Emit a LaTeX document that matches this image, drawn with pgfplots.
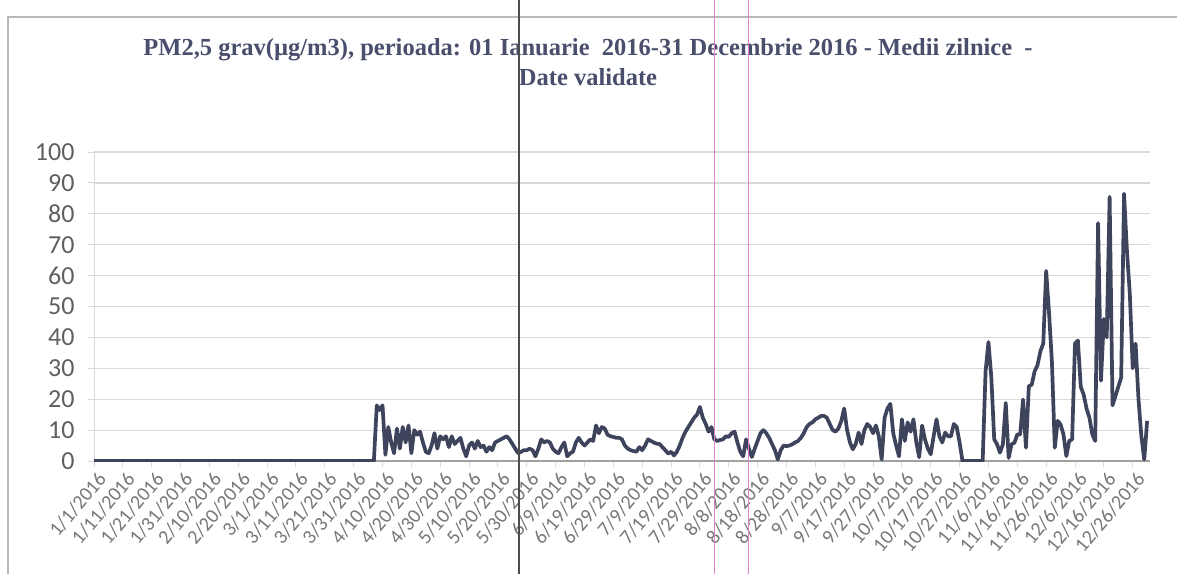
\documentclass[border=0pt]{standalone}
\usepackage{fontspec}
\setmainfont{Carlito}
\newfontfamily\titlefont{Liberation Serif}
\usepackage{pgfplots}
\pgfplotsset{compat=1.18}
\definecolor{titlecol}{RGB}{72,78,108}
\definecolor{linecol}{RGB}{62,68,92}
\definecolor{labcol}{RGB}{96,96,96}
\definecolor{gridcol}{RGB}{217,217,217}
\definecolor{axcol}{RGB}{160,160,160}
\definecolor{pinkline}{RGB}{225,130,205}

\begin{document}
\begin{tikzpicture}[x=1pt,y=1pt]
\useasboundingbox (0,0) rectangle (1177,574);
\fill[white] (0,0) rectangle (1177,574);
% chart area border (scan)
\draw[gray!55, line width=1.2pt] (8,0) -- (8,557) -- (1177,557);
\node[font=\titlefont\bfseries\fontsize{24.5}{30}\selectfont, text=titlecol, align=center]
  at (588,512) {PM2,5 grav(µg/m3), perioada: 01 Ianuarie\ \ 2016-31 Decembrie 2016 - Medii zilnice\ \ -\\Date validate};

\begin{axis}[
    at={(94pt,113pt)}, anchor=south west,
    scale only axis, width=1056pt, height=309pt,
    xmin=0, xmax=366, ymin=0, ymax=100,
    axis x line*=bottom, axis y line*=left,
    x axis line style={draw=axcol, line width=1.5pt, -},
    y axis line style={draw=gridcol, line width=1pt, -},
    ytick={0,10,...,100},
    xtick={0,10,...,360},
    xticklabels={1/1/2016,1/11/2016,1/21/2016,1/31/2016,2/10/2016,2/20/2016,3/1/2016,3/11/2016,3/21/2016,3/31/2016,4/10/2016,4/20/2016,4/30/2016,5/10/2016,5/20/2016,5/30/2016,6/9/2016,6/19/2016,6/29/2016,7/9/2016,7/19/2016,7/29/2016,8/8/2016,8/18/2016,8/28/2016,9/7/2016,9/17/2016,9/27/2016,10/7/2016,10/17/2016,10/27/2016,11/6/2016,11/16/2016,11/26/2016,12/6/2016,12/16/2016,12/26/2016},
    tick align=outside,
    major tick length=6pt,
    xtick style={draw=gridcol, line width=1pt},
    ytick style={draw=gridcol, line width=1pt},
    ymajorgrids,
    grid style={draw=gridcol, line width=1.2pt},
    /pgf/number format/assume math mode=true,
    yticklabel style={font=\fontsize{26}{26}\selectfont, text=labcol, xshift=-10pt},
    xticklabel style={font=\fontsize{20}{20}\selectfont, text=labcol!85, rotate=50, anchor=north east, inner sep=1pt, yshift=-3pt},
]
\addplot[color=linecol, line width=3.7pt, line join=round] coordinates {
(0,0) (97,0) (98,18) (99,16.5) (100,18) (101,2) (102,11) (103,6) (104,2.5) (105,10.5)
(106,4) (107,11) (108,6) (109,11.5) (110,2.5) (111,10) (112,8.5) (113,9.5) (114,6) (115,3)
(116,2.5) (117,5) (118,9) (119,4) (120,8) (121,7) (122,8) (123,4.5) (124,8) (125,5.5)
(126,6.5) (127,7.5) (128,4) (129,1.5) (130,5) (131,6) (132,4) (133,6.5) (134,4.5) (135,5)
(136,3) (137,4.5) (138,3.5) (139,6) (140,6.5) (141,7) (142,7.5) (143,8) (144,7) (145,5.5)
(146,4) (147,2.5) (148,3) (149,3.5) (150,3.5) (151,4) (152,3.5) (153,1.5) (154,4) (155,7)
(156,6) (157,6.5) (158,6) (159,4) (160,3) (161,2.5) (162,4.5) (163,6) (164,1.5) (165,2.5)
(166,3) (167,6) (168,7.5) (169,6) (170,5) (171,6) (172,7) (173,6.5) (174,11.5) (175,9)
(176,11) (177,10.5) (178,8.5) (179,8) (180,7.8) (181,7.5) (182,7.5) (183,7) (184,5) (185,4)
(186,3.5) (187,3.2) (188,3) (189,4.5) (190,3.5) (191,5) (192,7) (193,6.5) (194,6) (195,5.6)
(196,5.5) (197,4.5) (198,3.5) (199,2.4) (200,3) (201,1.8) (202,3) (203,5) (204,7.5) (205,9.5)
(206,11) (207,12.5) (208,14) (209,15) (210,17.5) (211,14) (212,12) (213,9.5) (214,11) (215,7)
(216,6.5) (217,6.8) (218,7) (219,8) (220,7.8) (221,9) (222,9.5) (223,6) (224,3) (225,1.5)
(226,7) (227,4) (228,1.3) (229,4) (230,6.5) (231,9) (232,10) (233,9) (234,7.5) (235,5.5)
(236,3.5) (237,0.5) (238,3.5) (239,5) (240,4.8) (241,5) (242,5.4) (243,6) (244,6.5) (245,7.5)
(246,9) (247,11) (248,12) (249,12.5) (250,13.5) (251,14) (252,14.6) (253,14.6) (254,14) (255,12)
(256,10) (257,9.5) (258,10.5) (259,13) (260,17) (261,10) (262,6) (263,3.8) (264,5.5) (265,9.2)
(266,5.5) (267,10) (268,12) (269,11) (270,9) (271,11.5) (272,8) (273,0.5) (274,14) (275,17)
(276,18.5) (277,9) (278,5) (279,1.5) (280,13.5) (281,6.5) (282,12.5) (283,9.5) (284,13.5) (285,6)
(286,1.2) (287,11.5) (288,7) (289,4) (290,2.2) (291,8) (292,13.5) (293,8) (294,6) (295,9.2)
(296,8) (297,8) (298,12) (299,11) (300,6) (301,0) (302,0) (303,0) (304,0) (305,0)
(306,0) (307,0) (308,0) (309,29) (310,38.5) (311,27) (312,7) (313,5.4) (314,2.7) (315,5.4)
(316,18.8) (317,1) (318,5.4) (319,5.9) (320,8.6) (321,8.6) (322,19.9) (323,4.3) (324,24.2) (325,24.7)
(326,29) (327,31) (328,35.5) (329,38) (330,61.5) (331,48) (332,32) (333,4.3) (334,13) (335,11.8)
(336,8.6) (337,1.6) (338,6.5) (339,7) (340,38) (341,39) (342,24) (343,21.5) (344,17) (345,14)
(346,8.6) (347,6.5) (348,77) (349,26) (350,46) (351,40) (352,85.5) (353,18) (354,21) (355,24)
(356,27) (357,86.5) (358,68) (359,54) (360,30) (361,38) (362,20) (363,8) (364,0.5) (365,13)
};
\end{axis}
% scanner streaks
\draw[black!70, line width=1.2pt] (519,0) -- (519,574);
\draw[pinkline, line width=0.9pt] (714,0) -- (714,574);
\draw[pinkline, line width=0.9pt] (748,0) -- (748,574);
\end{tikzpicture}
\end{document}
